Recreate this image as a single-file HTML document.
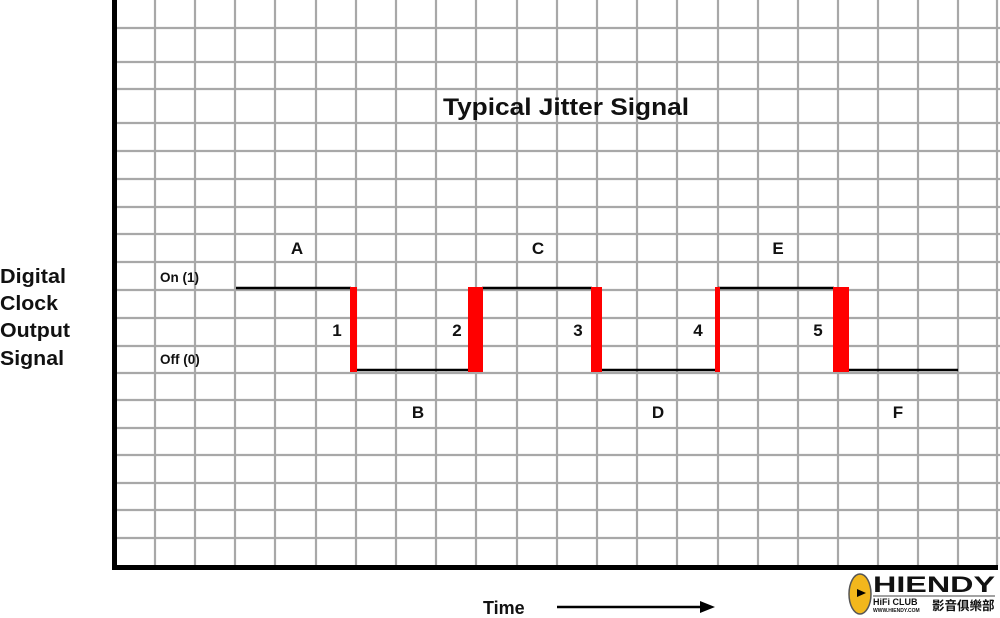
<!DOCTYPE html>
<html><head><meta charset="utf-8"><style>
html,body{margin:0;padding:0;background:#fff;}
svg{display:block;}
text{font-family:"Liberation Sans",Arial,sans-serif;font-weight:bold;fill:#111;}
</style></head><body>
<svg width="1000" height="618" viewBox="0 0 1000 618" xmlns="http://www.w3.org/2000/svg">
<g stroke="#a8a8a8" stroke-width="2.2">
<line x1="155" y1="0" x2="155" y2="566"/><line x1="195" y1="0" x2="195" y2="566"/><line x1="235" y1="0" x2="235" y2="566"/><line x1="275" y1="0" x2="275" y2="566"/><line x1="316" y1="0" x2="316" y2="566"/><line x1="356" y1="0" x2="356" y2="566"/><line x1="396" y1="0" x2="396" y2="566"/><line x1="436" y1="0" x2="436" y2="566"/><line x1="476" y1="0" x2="476" y2="566"/><line x1="517" y1="0" x2="517" y2="566"/><line x1="557" y1="0" x2="557" y2="566"/><line x1="597" y1="0" x2="597" y2="566"/><line x1="637" y1="0" x2="637" y2="566"/><line x1="677" y1="0" x2="677" y2="566"/><line x1="718" y1="0" x2="718" y2="566"/><line x1="758" y1="0" x2="758" y2="566"/><line x1="798" y1="0" x2="798" y2="566"/><line x1="838" y1="0" x2="838" y2="566"/><line x1="878" y1="0" x2="878" y2="566"/><line x1="918" y1="0" x2="918" y2="566"/><line x1="958" y1="0" x2="958" y2="566"/><line x1="997" y1="0" x2="997" y2="566"/>
<line x1="115" y1="28" x2="1000" y2="28"/><line x1="115" y1="62" x2="1000" y2="62"/><line x1="115" y1="89" x2="1000" y2="89"/><line x1="115" y1="123" x2="1000" y2="123"/><line x1="115" y1="151" x2="1000" y2="151"/><line x1="115" y1="179" x2="1000" y2="179"/><line x1="115" y1="207" x2="1000" y2="207"/><line x1="115" y1="234" x2="1000" y2="234"/><line x1="115" y1="262" x2="1000" y2="262"/><line x1="115" y1="290" x2="1000" y2="290"/><line x1="115" y1="318" x2="1000" y2="318"/><line x1="115" y1="346" x2="1000" y2="346"/><line x1="115" y1="373" x2="1000" y2="373"/><line x1="115" y1="400" x2="1000" y2="400"/><line x1="115" y1="428" x2="1000" y2="428"/><line x1="115" y1="455" x2="1000" y2="455"/><line x1="115" y1="483" x2="1000" y2="483"/><line x1="115" y1="510" x2="1000" y2="510"/><line x1="115" y1="538" x2="1000" y2="538"/>
</g>
<rect x="112" y="0" width="5" height="570" fill="#000"/>
<rect x="112" y="565" width="886" height="5" fill="#000"/>
<g stroke="#000" stroke-width="2.6" fill="none">
<line x1="236" y1="288" x2="351" y2="288"/>
<line x1="356" y1="370" x2="469" y2="370"/>
<line x1="482" y1="288" x2="592" y2="288"/>
<line x1="601" y1="370" x2="716" y2="370"/>
<line x1="718" y1="288" x2="834" y2="288"/>
<line x1="848" y1="370" x2="958" y2="370"/>
</g>
<g fill="#f00">
<rect x="350" y="287" width="7" height="85"/>
<rect x="468" y="287" width="15" height="85"/>
<rect x="591" y="287" width="11" height="85"/>
<rect x="715" y="287" width="5" height="85"/>
<rect x="833" y="287" width="16" height="85"/>
</g>
<text x="566" y="115" font-size="24" text-anchor="middle" textLength="246" lengthAdjust="spacingAndGlyphs">Typical Jitter Signal</text>
<g font-size="20">
<text x="0" y="283" textLength="66" lengthAdjust="spacingAndGlyphs">Digital</text><text x="0" y="310" textLength="58" lengthAdjust="spacingAndGlyphs">Clock</text><text x="0" y="337" textLength="70" lengthAdjust="spacingAndGlyphs">Output</text><text x="0" y="365" textLength="64" lengthAdjust="spacingAndGlyphs">Signal</text>
</g>
<text x="160" y="282" font-size="13.5">On (1)</text>
<text x="160" y="364" font-size="13.5">Off (0)</text>
<g font-size="17" text-anchor="middle">
<text x="297" y="254">A</text><text x="538" y="254">C</text><text x="778" y="254">E</text>
<text x="418" y="418">B</text><text x="658" y="418">D</text><text x="898" y="418">F</text>
<text x="337" y="336">1</text><text x="457" y="336">2</text><text x="578" y="336">3</text><text x="698" y="336">4</text><text x="818" y="336">5</text>
</g>
<text x="483" y="614" font-size="18">Time</text>
<line x1="557" y1="607" x2="703" y2="607" stroke="#000" stroke-width="2.5"/>
<polygon points="700,601 715,607 700,613" fill="#000"/>
<ellipse cx="860" cy="594" rx="11" ry="20" fill="#f2b71c" stroke="#555" stroke-width="1.5"/>
<polygon points="857,589 866,593 857,597" fill="#000"/>
<text x="873" y="592" font-size="22" fill="#333" textLength="122" lengthAdjust="spacingAndGlyphs">HIENDY</text>
<line x1="873" y1="596" x2="995" y2="596" stroke="#444" stroke-width="1"/>
<text x="873" y="605" font-size="9" font-weight="normal" fill="#333">HiFi CLUB</text>
<text x="873" y="612" font-size="5" fill="#333">WWW.HIENDY.COM</text>
<text x="932" y="610" font-size="12.5" fill="#222" style="font-family:'Liberation Sans','Noto Sans CJK TC',sans-serif">影音俱樂部</text>
</svg>
</body></html>
